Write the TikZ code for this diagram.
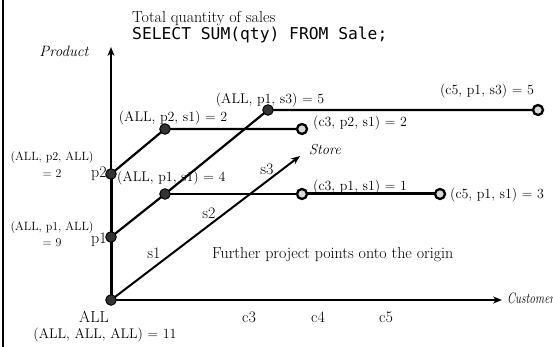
\documentclass[tikz,border=0pt]{standalone}
\usepackage{fontspec}
\setmonofont{DejaVu Sans Mono}
\usetikzlibrary{arrows.meta}
\begin{document}
\begin{tikzpicture}[x=1pt,y=-1pt,
  lbl/.style={font=\fontsize{14}{16}\selectfont, inner sep=0pt},
  big/.style={font=\fontsize{16}{18}\selectfont, inner sep=0pt},
  small/.style={font=\fontsize{12}{14}\selectfont, inner sep=0pt},
  axlbl/.style={font=\fontsize{15}{17}\selectfont\itshape, inner sep=0pt},
  axis/.style={line width=2.3pt, -{Stealth[length=9pt,width=7pt]}},
  ln/.style={line width=2.2pt},
  thick ln/.style={line width=3pt},
  dot/.style={circle, fill=black!80, draw=black, line width=1pt, minimum size=10.5pt, inner sep=0pt},
  odot/.style={circle, fill=black!15, draw=black, line width=2.3pt, minimum size=10pt, inner sep=0pt}
]
\useasboundingbox (0,0) rectangle (553,347);
\draw[line width=2.5pt] (3,0) -- (3,347);

% points
\coordinate (O) at (111,300);
\coordinate (P1) at (111,237);
\coordinate (P2) at (111,174);
\coordinate (A21) at (165,129);
\coordinate (A11) at (165,194);
\coordinate (A13) at (268,110);
\coordinate (C321) at (302,129);
\coordinate (C311) at (302,194);
\coordinate (C511) at (440,194);
\coordinate (C513) at (538,110);
\coordinate (ProdTip) at (111,47);
\coordinate (CustTip) at (502,300);
\coordinate (StoreTip) at (300,156);

% axes
\draw[thick ln] (O) -- (P2);
\draw[axis] (P2) -- (ProdTip);
\draw[axis] (O) -- (CustTip);
\draw[axis, line width=2pt] (O) -- (StoreTip);

% lines
\draw[ln] (P2) -- (A21) -- (C321);
\draw[ln] (P1) -- (A11) -- (A13) -- (C513);
\draw[ln] (A11) -- (C311);
\draw[thick ln] (C311) -- (C511);

% dots
\node[dot] (nO) at (O) {};
\node[dot] (nP1) at (P1) {};
\node[dot] (nP2) at (P2) {};
\node[dot] (nA21) at (A21) {};
\node[dot] (nA11) at (A11) {};
\node[dot] (nA13) at (A13) {};
\node[odot] (nC321) at (C321) {};
\node[odot] (nC311) at (C311) {};
\node[odot] (nC511) at (C511) {};
\node[odot] (nC513) at (C513) {};

% texts
\node[big, anchor=base west] (title) at (132,23) {Total quantity of sales};
\node[inner sep=0pt, anchor=base west, font=\ttfamily\fontsize{16.3}{18}\selectfont] (sql) at (132,39.5) {SELECT SUM(qty) FROM Sale;};
\node[axlbl, anchor=base] (prod) at (64,57) {Product};
\node[font=\fontsize{14.5}{16}\selectfont\itshape, inner sep=0pt, anchor=base west] (store) at (309,155) {Store};
\node[font=\fontsize{15}{17}\selectfont\itshape, inner sep=0pt, anchor=base west] (cust) at (507,303) {\scalebox{0.76}[1]{Customer}};

\node[lbl, anchor=base] (tA21) at (173,122) {(ALL, p2, s1) = 2};
\node[lbl, anchor=base] (tA13) at (270,104) {(ALL, p1, s3) = 5};
\node[lbl, anchor=base] (tC513) at (487,95) {(c5, p1, s3) = 5};
\node[lbl, anchor=base west] (tC321) at (313,127) {(c3, p2, s1) = 2};
\node[lbl, anchor=base west] (tC311) at (313,190) {(c3, p1, s1) = 1};
\node[lbl, anchor=base west] (tC511) at (450,198) {(c5, p1, s1) = 3};
\node[lbl, anchor=base west] (tA11) at (117,182) {(ALL, p1, s1) = 4};

\node[small, anchor=base] (tP2a) at (52,161) {(ALL, p2, ALL)};
\node[small, anchor=base] (tP2b) at (52,178) {= 2};
\node[small, anchor=base] (tP1a) at (52,230) {(ALL, p1, ALL)};
\node[small, anchor=base] (tP1b) at (52,246) {= 9};

\node[big, anchor=base west] (lp2) at (91,178) {p2};
\node[big, anchor=base west] (lp1) at (91,243) {p1};

\node[big, anchor=base] (ls1) at (154,258) {s1};
\node[big, anchor=base] (ls2) at (209,218) {s2};
\node[big, anchor=base] (ls3) at (267,175) {s3};

\node[big, anchor=base west] (further) at (212,258) {Further project points onto the origin};

\node[big, anchor=base] (lALL) at (94,322) {ALL};
\node[lbl, anchor=base] (tO) at (105,338) {(ALL, ALL, ALL) = 11};

\node[big, anchor=base] (lc3) at (249,322) {c3};
\node[big, anchor=base] (lc4) at (318,322) {c4};
\node[big, anchor=base] (lc5) at (386,322) {c5};
\end{tikzpicture}
\end{document}
